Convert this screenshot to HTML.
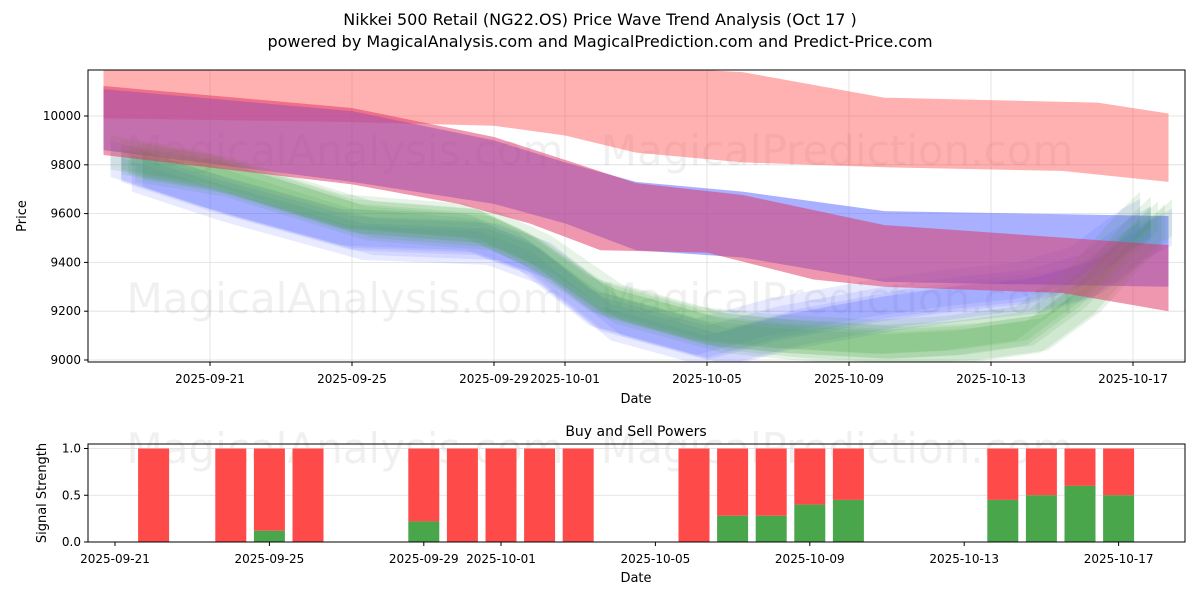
<!DOCTYPE html>
<html><head><meta charset="utf-8"><style>
body{margin:0;background:#fff;font-family:"Liberation Sans","DejaVu Sans",sans-serif;}
svg text{font-family:"DejaVu Sans","Liberation Sans",sans-serif;}
</style></head><body>
<svg id="chart" width="1200" height="600" xmlns="http://www.w3.org/2000/svg">
<rect width="1200" height="600" fill="#fff"/>
<text x="600" y="25" text-anchor="middle" font-size="16">Nikkei 500 Retail (NG22.OS) Price Wave Trend Analysis (Oct 17 )</text>
<text x="600" y="47" text-anchor="middle" font-size="16">powered by MagicalAnalysis.com and MagicalPrediction.com and Predict-Price.com</text>
<g id="topPanel"></g>
<g id="botPanel"></g>
</svg>
<script>
// ===== Price panel data (day offsets from 2025-09-18) =====
const bandR1Days=[0,16,18,22,28,30];
const bandR1Upper=[10195,10195,10180,10075,10055,10010];
const bandR1LowDays=[0,7,11,13,15,18,22,27,30];
const bandR1Lower=[9990,9975,9960,9920,9850,9810,9790,9775,9730];
const bandBDays=[0,7,11,13,15,18,22,30];
const bandBUpper=[10110,10020,9900,9810,9730,9690,9610,9590];
const bandBLower=[9860,9730,9640,9560,9450,9420,9320,9300];
const bandR2Days=[0,7,11,13,15,18,22,30];
const bandR2Upper=[10123,10033,9914,9820,9725,9676,9553,9471];
const bandR2LowDays=[0,7,10,12,14,17,20,22,27,30];
const bandR2Lower=[9840,9720,9640,9560,9450,9440,9330,9300,9275,9200];
const waveDays=[0.5,3,7,10.5,12,14,17,19,22,24,26,27.5,29,29.5];
const greenWave=[9830,9770,9590,9550,9450,9250,9130,9100,9075,9090,9130,9290,9530,9600];
const blueWave=[9800,9680,9520,9500,9420,9190,9070,9150,9230,9270,9300,9360,9520,9560];
const yTicks=[9000,9200,9400,9600,9800,10000];
const xTickDays=[3,7,11,13,17,21,25,29];
const xTickLabels=["2025-09-21","2025-09-25","2025-09-29","2025-10-01","2025-10-05","2025-10-09","2025-10-13","2025-10-17"];
// ===== Signal panel data (day offsets from 2025-09-21) =====
const barDays=[1,3,4,5,8,9,10,11,12,15,16,17,18,19,23,24,25,26];
const buyValues=[0,0,0.12,0,0.22,0,0,0,0,0,0.28,0.28,0.4,0.45,0.45,0.5,0.6,0.5];
const botTickDays=[0,4,8,10,14,18,22,26];
const botTickLabels=["2025-09-21","2025-09-25","2025-09-29","2025-10-01","2025-10-05","2025-10-09","2025-10-13","2025-10-17"];
const sigTicks=[0,0.5,1];

const NS="http://www.w3.org/2000/svg";
function mk(parent,tag,attrs){const e=document.createElementNS(NS,tag);for(const k in attrs)e.setAttribute(k,attrs[k]);parent.appendChild(e);return e;}
const topG=document.getElementById('topPanel'),botG=document.getElementById('botPanel');
const L=88,R=1185,T=70,B=362;
const xs=d=>103.5+d*35.5;
const ys=p=>116+(10000-p)*0.244;
const defs=mk(topG,'defs',{});
const cp=mk(defs,'clipPath',{id:'cp'});mk(cp,'rect',{x:L,y:T,width:R-L,height:B-T});
yTicks.forEach(v=>{const g=mk(topG,'line',{x1:L,x2:R,y1:ys(v),y2:ys(v),stroke:'#ddd','stroke-width':0.8});

});
xTickDays.forEach(d=>{const g=mk(topG,'line',{x1:xs(d),x2:xs(d),y1:T,y2:B,stroke:'#ddd','stroke-width':0.8});

});
[[345,150,'MagicalAnalysis.com'],[837,150,'MagicalPrediction.com'],[345,298,'MagicalAnalysis.com'],[837,298,'MagicalPrediction.com']].forEach(w=>{
const t=mk(topG,'text',{x:w[0],y:w[1]+15,'text-anchor':'middle','font-size':42,fill:'#000','fill-opacity':0.06});t.textContent=w[2];

});
const clipG=mk(topG,'g',{'clip-path':'url(#cp)'});
function band(ud,u,ld,l,fill,op,name){
 let pts=ud.map((d,i)=>xs(d)+','+ys(u[i]));
 for(let i=ld.length-1;i>=0;i--)pts.push(xs(ld[i])+','+ys(l[i]));
 const p=mk(clipG,'polygon',{points:pts.join(' '),fill:fill,'fill-opacity':op});
 
 
}
band(bandR1Days,bandR1Upper,bandR1LowDays,bandR1Lower,'#ff5050',0.45,'red-upper-band');
band(bandBDays,bandBUpper,bandBDays,bandBLower,'#6070ff',0.55,'blue-band');
function wave(vals,fill,offs,name){
 offs.forEach(o=>{
  const up=vals.map(v=>v+o[0]),lo=vals.map(v=>v-o[1]);
  let pts=waveDays.map((d,i)=>xs(d+o[2])+','+ys(up[i]));
  for(let i=waveDays.length-1;i>=0;i--)pts.push(xs(waveDays[i]+o[2])+','+ys(lo[i]));
  const p=mk(clipG,'polygon',{points:pts.join(' '),fill:fill,'fill-opacity':0.13});
  
  
 });
}
wave(blueWave,'#5060ff',[[70,70,0],[40,110,0.3],[100,50,-0.3],[60,90,0.6],[30,60,0]],'blue-wave');
wave(greenWave,'#40a040',[[70,70,0],[40,100,0.4],[90,50,-0.3],[60,90,0.6],[30,50,0],[50,70,0.2]],'green-wave');
band(bandR2Days,bandR2Upper,bandR2LowDays,bandR2Lower,'#e03060',0.5,'red-lower-band');
mk(topG,'rect',{x:L,y:T,width:R-L,height:B-T,fill:'none',stroke:'#000','stroke-width':1});
yTicks.forEach(v=>{mk(topG,'line',{x1:L-4,x2:L,y1:ys(v),y2:ys(v),stroke:'#000'});
const t=mk(topG,'text',{x:L-7,y:ys(v)+4,'text-anchor':'end','font-size':12});t.textContent=v;

});
xTickDays.forEach((d,i)=>{mk(topG,'line',{x1:xs(d),x2:xs(d),y1:B,y2:B+4,stroke:'#000'});
const t=mk(topG,'text',{x:xs(d),y:B+21,'text-anchor':'middle','font-size':12});t.textContent=xTickLabels[i];

});
let t1=mk(topG,'text',{x:636,y:403,'text-anchor':'middle','font-size':13});t1.textContent='Date';


let t2=mk(topG,'text',{x:26,y:216,'text-anchor':'middle','font-size':13,transform:'rotate(-90 26 216)'});t2.textContent='Price';



const BT=444,BB=542;
const bx=d=>115+d*38.6;
const by=v=>542-v*93.5;
[[345,448,'MagicalAnalysis.com'],[837,448,'MagicalPrediction.com']].forEach(w=>{
const t=mk(botG,'text',{x:w[0],y:w[1]+15,'text-anchor':'middle','font-size':42,fill:'#000','fill-opacity':0.06});t.textContent=w[2];

});
sigTicks.forEach(v=>{const g=mk(botG,'line',{x1:L,x2:R,y1:by(v),y2:by(v),stroke:'#ddd','stroke-width':0.8});

});
barDays.forEach((d,i)=>{
 const g=buyValues[i];
 const r=mk(botG,'rect',{x:bx(d)-15.5,y:by(1),width:31,height:by(g)-by(1),fill:'#ff4a4a'});
 
 
 if(g>0){const q=mk(botG,'rect',{x:bx(d)-15.5,y:by(g),width:31,height:by(0)-by(g),fill:'#4aa64a'});
 
 }
});
mk(botG,'rect',{x:L,y:BT,width:R-L,height:BB-BT,fill:'none',stroke:'#000','stroke-width':1});
sigTicks.forEach(v=>{mk(botG,'line',{x1:L-4,x2:L,y1:by(v),y2:by(v),stroke:'#000'});
const t=mk(botG,'text',{x:L-7,y:by(v)+4,'text-anchor':'end','font-size':12});t.textContent=v.toFixed(1);

});
botTickDays.forEach((d,i)=>{mk(botG,'line',{x1:bx(d),x2:bx(d),y1:BB,y2:BB+4,stroke:'#000'});
const t=mk(botG,'text',{x:bx(d),y:BB+21,'text-anchor':'middle','font-size':12});t.textContent=botTickLabels[i];

});
let t3=mk(botG,'text',{x:636,y:436,'text-anchor':'middle','font-size':14});t3.textContent='Buy and Sell Powers';


let t4=mk(botG,'text',{x:636,y:582,'text-anchor':'middle','font-size':13});t4.textContent='Date';


let t5=mk(botG,'text',{x:46,y:493,'text-anchor':'middle','font-size':13,transform:'rotate(-90 46 493)'});t5.textContent='Signal Strength';


</script>
</body></html>
